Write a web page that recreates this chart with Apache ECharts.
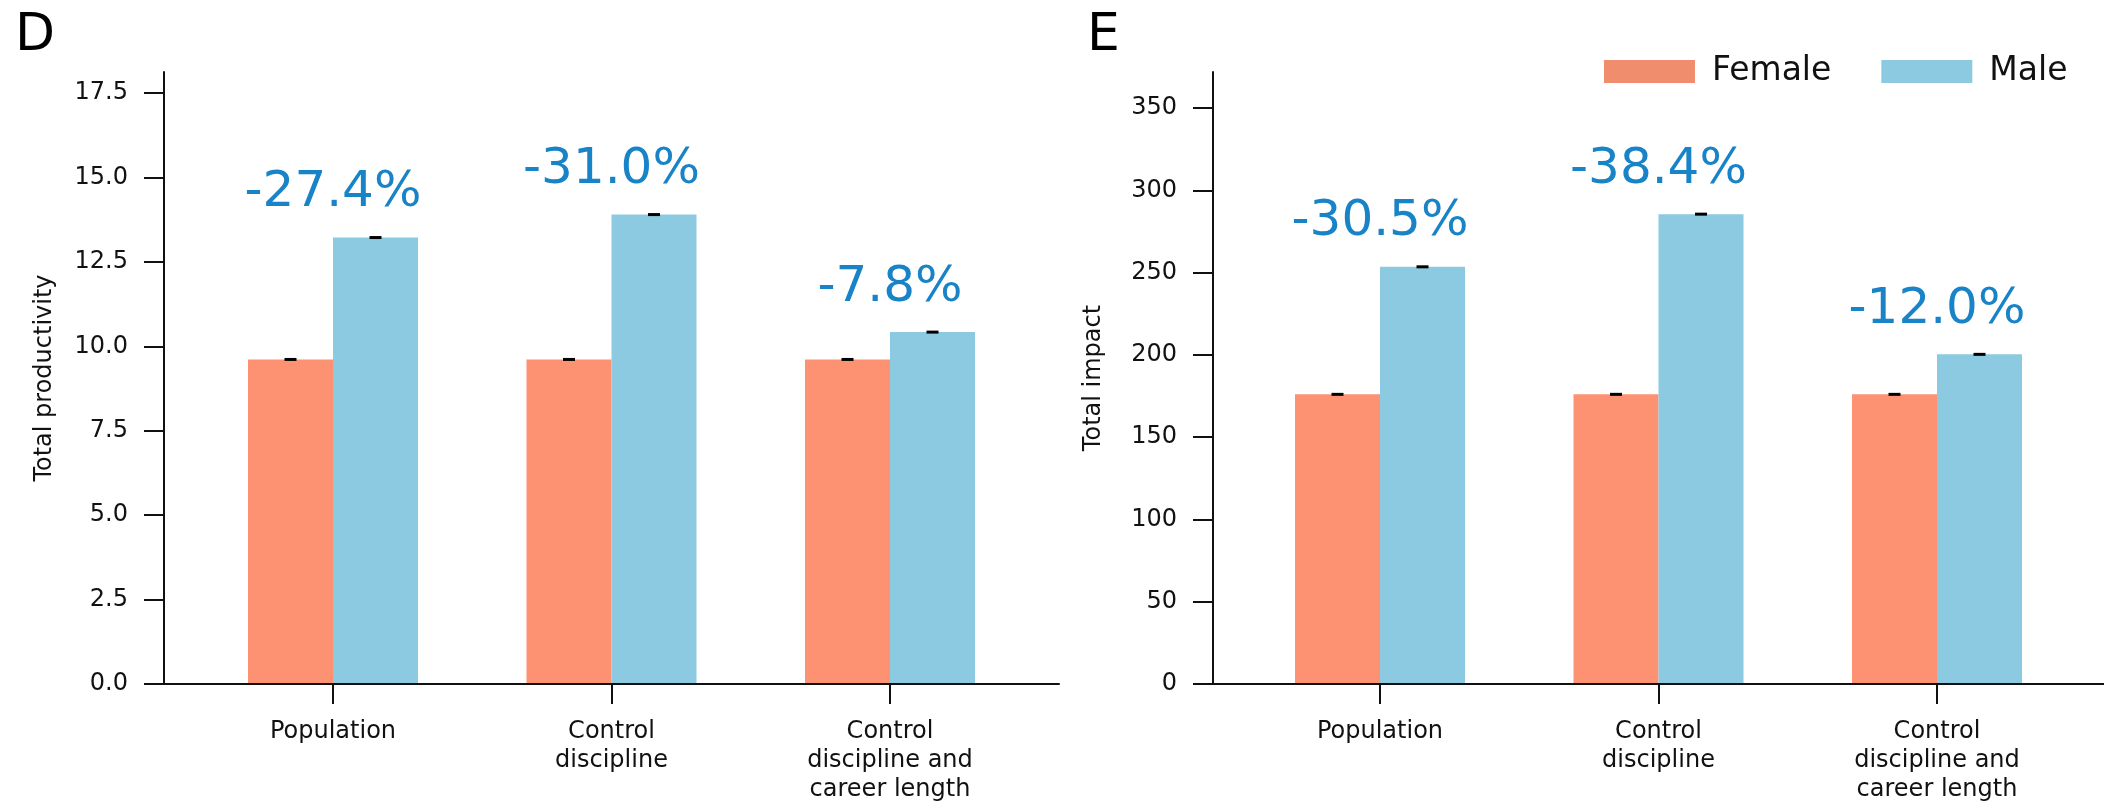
<!DOCTYPE html>
<html>
<head>
<meta charset="utf-8">
<script src="https://cdn.jsdelivr.net/npm/echarts@6/dist/echarts.min.js"></script>
<style>
  html, body { margin: 0; padding: 0; background: #fff; }
  #chart { width: 2104px; height: 803px; }
</style>
</head>
<body>
<div id="chart"></div>
<script>
// data
var categories = ['Population', 'Control\ndiscipline', 'Control\ndiscipline and\ncareer length']
var productivityFemale = [9.61, 9.61, 9.61]
var productivityMale = [13.22, 13.9, 10.42]
var productivityGap = ['-27.4%', '-31.0%', '-7.8%']
var impactFemale = [176, 176, 176]
var impactMale = [253.5, 285.5, 200.3]
var impactGap = ['-30.5%', '-38.4%', '-12.0%']

var FONT = 'DejaVu Sans'
var INK = '#111'
var FEMALE = '#FC9271'
var MALE = '#8BCAE1'
var GAPBLUE = '#1883C6'

function panel (idx, p) {
  var grids = [
    // frame: just the two axis lines
    { left: p.left, top: 72, width: p.width, height: 612 },
    // tick grid: top sits on the last labelled tick
    { left: p.left, top: p.tickTop, width: p.width, height: 684 - p.tickTop },
    // bar grid: narrower band so categories land where matplotlib put them
    { left: p.barLeft, top: 72, width: 835.5, height: 612 }
  ]
  grids.forEach(function (g) { g.outerBoundsMode = 'none'; g.containLabel = false })

  var lineStyle = { color: INK, width: 2 }
  var xAxis = [
    { gridIndex: idx, type: 'value', min: 0, max: 1, z: 10,
      axisLine: { show: true, lineStyle: lineStyle }, axisTick: { show: false },
      axisLabel: { show: false }, splitLine: { show: false } },
    { gridIndex: idx + 1, type: 'value', show: false },
    { gridIndex: idx + 2, type: 'category', data: categories,
      axisLine: { show: false },
      axisTick: { show: true, alignWithLabel: true, length: 20, lineStyle: lineStyle },
      axisLabel: { interval: 0, margin: 33, color: INK, fontFamily: FONT, fontSize: 24, lineHeight: 29 } }
  ]
  var yAxis = [
    { gridIndex: idx, type: 'value', min: 0, max: 1, z: 10,
      name: p.name, nameLocation: 'middle', nameGap: 107,
      nameTextStyle: { color: INK, fontFamily: FONT, fontSize: 24 },
      axisLine: { show: true, lineStyle: lineStyle }, axisTick: { show: false },
      axisLabel: { show: false }, splitLine: { show: false } },
    { gridIndex: idx + 1, type: 'value', min: 0, max: p.tickMax, interval: p.step,
      axisLine: { show: false },
      axisTick: { show: true, length: 20, lineStyle: lineStyle },
      axisLabel: { margin: 36, color: INK, fontFamily: FONT, fontSize: 24,
        formatter: function (v) { return v.toFixed(p.digits) } },
      splitLine: { show: false } },
    { gridIndex: idx + 2, type: 'value', min: 0, max: p.yMax, show: false }
  ]

  var onBars = { xAxisIndex: idx + 2, yAxisIndex: idx + 2 }
  var series = [
    Object.assign({ type: 'bar', name: 'Female', data: p.female, barWidth: 85, barGap: '0%',
      itemStyle: { color: FEMALE } }, onBars),
    Object.assign({ type: 'bar', name: 'Male', data: p.male, barWidth: 85,
      itemStyle: { color: MALE } }, onBars),
    // tiny error caps
    Object.assign({ type: 'scatter', data: p.female, symbol: 'rect', symbolSize: [12, 3],
      symbolOffset: [-42.5, 0], itemStyle: { color: '#000', opacity: 1 }, z: 5, silent: true }, onBars),
    Object.assign({ type: 'scatter', data: p.male, symbol: 'rect', symbolSize: [12, 3],
      symbolOffset: [42.5, 0], itemStyle: { color: '#000', opacity: 1 }, z: 5, silent: true }, onBars),
    // gap percentages above each pair
    Object.assign({ type: 'scatter', data: p.male, symbolSize: 1,
      itemStyle: { color: 'rgba(0,0,0,0)', opacity: 1 }, silent: true, z: 6,
      label: { show: true, position: 'top', distance: 19, color: GAPBLUE,
        fontFamily: FONT, fontSize: 50,
        formatter: function (d) { return p.gap[d.dataIndex] } } }, onBars)
  ]
  return { grids: grids, xAxis: xAxis, yAxis: yAxis, series: series }
}

function drawChart () {
  var left = panel(0, {
    left: 164, width: 895, barLeft: 193.75, tickTop: 93, tickMax: 17.5, step: 2.5, digits: 1,
    yMax: 17.5 * 612 / 591, name: 'Total productivity',
    female: productivityFemale, male: productivityMale, gap: productivityGap
  })
  var right = panel(3, {
    left: 1213, width: 891, barLeft: 1240.75, tickTop: 108, tickMax: 350, step: 50, digits: 0,
    yMax: 350 * 612 / 576, name: 'Total impact',
    female: impactFemale, male: impactMale, gap: impactGap
  })

  var myChart = echarts.init(document.getElementById('chart'), null, { renderer: 'canvas' })
  myChart.setOption({
    animation: false,
    backgroundColor: '#fff',
    legend: {
      left: 1599, top: 50,
      itemWidth: 91, itemHeight: 23, itemGap: 50,
      icon: 'rect',
      data: [
        { name: 'Female', itemStyle: { color: '#F08D6C' } },
        { name: 'Male', itemStyle: { color: MALE } }
      ],
      textStyle: { color: INK, fontFamily: FONT, fontSize: 33, padding: [0, 0, 0, 12] }
    },
    graphic: [
      { type: 'text', left: 15, top: 10, style: { text: 'D', fill: '#000', font: '52px "DejaVu Sans"' } },
      { type: 'text', left: 1087, top: 10, style: { text: 'E', fill: '#000', font: '52px "DejaVu Sans"' } }
    ],
    grid: left.grids.concat(right.grids),
    xAxis: left.xAxis.concat(right.xAxis),
    yAxis: left.yAxis.concat(right.yAxis),
    series: left.series.concat(right.series)
  })
}

drawChart()
</script>
</body>
</html>
